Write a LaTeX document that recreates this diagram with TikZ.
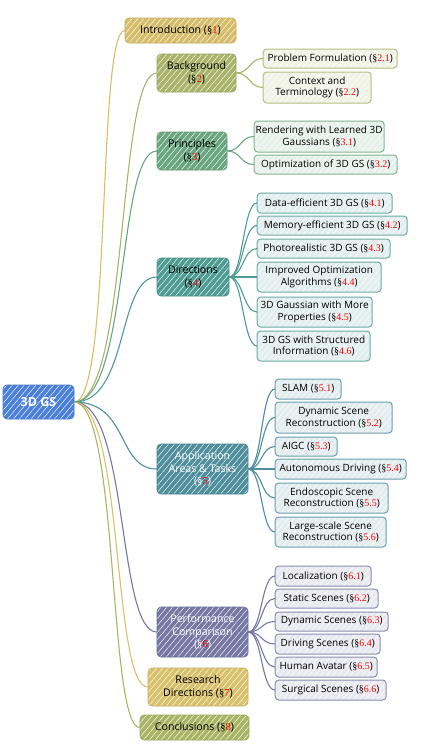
\documentclass[tikz,border=0pt]{standalone}
\usepackage{fontspec}
\setmainfont{Open Sans}
\newfontfamily\secfont{Liberation Serif}
\usetikzlibrary{patterns.meta}
\definecolor{rootblue}{HTML}{4A80DC}
\definecolor{introgold}{HTML}{D6BD69}
\definecolor{bgolive}{HTML}{A9B46A}
\definecolor{prgreen}{HTML}{6AA67F}
\definecolor{dirteal}{HTML}{4E9C93}
\definecolor{appteal}{HTML}{4F8E9D}
\definecolor{perfpurple}{HTML}{7678A3}
\definecolor{resgold}{HTML}{D9C06B}
\definecolor{concolive}{HTML}{A9B564}

\newcommand{\gsref}[1]{({\secfont\S\textcolor{red}{#1}})}

\tikzset{
  hatch/.style={postaction={pattern={Lines[angle=50,distance=4.5pt,line width=0.45pt]},
    pattern color=white,fill opacity=0.22}},
  topic/.style={fill=#1,rounded corners=4pt,align=center,inner sep=1.5pt,
    font=\fontsize{10.6}{12.5}\selectfont,hatch,postaction={draw=#1!90!black,line width=0.6pt}},
  subtopic/.style={fill=#1!16,rounded corners=3.5pt,align=center,inner sep=1.5pt,anchor=west,
    font=\fontsize{10}{11.5}\selectfont,hatch,postaction={draw=#1!85,line width=1pt}},
  link/.style={draw=#1,line width=1.1pt},
}

\begin{document}
\begin{tikzpicture}[x=1pt,y=-1pt]
  \useasboundingbox (0,0) rectangle (423,750);

  % central topic
  \node[topic=rootblue,text=white,font=\fontsize{12.5}{14}\selectfont\bfseries,
    minimum width=71,minimum height=34] (root) at (38.5,402) {3D GS};

  % main topics
  \node[topic=introgold,minimum width=111,minimum height=25] (intro) at (180.5,30.5) {Introduction \gsref{1}};
  \node[topic=bgolive,minimum width=79,minimum height=38] (bg) at (196.5,73) {Background\\\gsref{2}};
  \node[topic=prgreen,minimum width=70,minimum height=38] (prin) at (192,151) {Principles\\\gsref{3}};
  \node[topic=dirteal,minimum width=72,minimum height=38] (dir) at (193,277) {Directions\\\gsref{4}};
  \node[topic=appteal,text=white,minimum width=91,minimum height=50] (app) at (202.5,469) {Application\\Areas \& Tasks\\\gsref{5}};
  \node[topic=perfpurple,text=white,minimum width=91,minimum height=50] (perf) at (202.5,632) {Performance\\Comparison\\\gsref{6}};
  \node[topic=resgold,minimum width=100,minimum height=38] (res) at (198,687) {Research\\Directions \gsref{7}};
  \node[topic=concolive,minimum width=109,minimum height=25] (conc) at (194.5,727.5) {Conclusions \gsref{8}};

  % background
  \node[subtopic=bgolive,minimum width=134,minimum height=19] (pf) at (263,58.5) {Problem Formulation \gsref{2.1}};
  \node[subtopic=bgolive,minimum width=108,minimum height=31] (ct) at (263,87.5) {Context and\\Terminology \gsref{2.2}};

  % principles
  \node[subtopic=prgreen,minimum width=130,minimum height=31] (rend) at (254,136.5) {Rendering with Learned 3D\\Gaussians \gsref{3.1}};
  \node[subtopic=prgreen,minimum width=143,minimum height=19] (opt) at (254,164.5) {Optimization of 3D GS \gsref{3.2}};

  % directions
  \node[subtopic=dirteal,minimum width=135,minimum height=20] (d1) at (257,203) {Data-efficient 3D GS \gsref{4.1}};
  \node[subtopic=dirteal,minimum width=150,minimum height=19] (d2) at (257,225.5) {Memory-efficient 3D GS \gsref{4.2}};
  \node[subtopic=dirteal,minimum width=133,minimum height=19] (d3) at (257,248.5) {Photorealistic 3D GS \gsref{4.3}};
  \node[subtopic=dirteal,minimum width=124,minimum height=30] (d4) at (257,277) {Improved Optimization\\Algorithms \gsref{4.4}};
  \node[subtopic=dirteal,minimum width=115,minimum height=30] (d5) at (257,312) {3D Gaussian with More\\Properties \gsref{4.5}};
  \node[subtopic=dirteal,minimum width=113,minimum height=30] (d6) at (257,346) {3D GS with Structured\\Information \gsref{4.6}};

  % applications
  \node[subtopic=appteal,minimum width=66,minimum height=20] (a1) at (275,389) {SLAM \gsref{5.1}};
  \node[subtopic=appteal,minimum width=117,minimum height=31] (a2) at (275,417.5) {Dynamic Scene\\Reconstruction \gsref{5.2}};
  \node[subtopic=appteal,minimum width=62,minimum height=19] (a3) at (275,446.5) {AIGC \gsref{5.3}};
  \node[subtopic=appteal,minimum width=131,minimum height=20] (a4) at (275,469) {Autonomous Driving \gsref{5.4}};
  \node[subtopic=appteal,minimum width=113,minimum height=30] (a5) at (275,498) {Endoscopic Scene\\Reconstruction \gsref{5.5}};
  \node[subtopic=appteal,minimum width=111,minimum height=30] (a6) at (275,532) {Large-scale Scene\\Reconstruction \gsref{5.6}};

  % performance
  \node[subtopic=perfpurple,minimum width=96,minimum height=20] (p1) at (275,576) {Localization \gsref{6.1}};
  \node[subtopic=perfpurple,minimum width=103,minimum height=19] (p2) at (275,598.5) {Static Scenes \gsref{6.2}};
  \node[subtopic=perfpurple,minimum width=113,minimum height=19] (p3) at (275,621.5) {Dynamic Scenes \gsref{6.3}};
  \node[subtopic=perfpurple,minimum width=105,minimum height=20] (p4) at (275,644) {Driving Scenes \gsref{6.4}};
  \node[subtopic=perfpurple,minimum width=102,minimum height=20] (p5) at (275,667) {Human Avatar \gsref{6.5}};
  \node[subtopic=perfpurple,minimum width=111,minimum height=20] (p6) at (275,690) {Surgical Scenes \gsref{6.6}};

  % links from the root
  \draw[link=introgold] (root.east) .. controls +(38,0) and +(-28,0) .. (intro.west);
  \draw[link=bgolive] (root.east) .. controls +(55,0) and +(-40,0) .. (bg.west);
  \draw[link=prgreen] (root.east) .. controls +(55,0) and +(-40,0) .. (prin.west);
  \draw[link=dirteal] (root.east) .. controls +(55,0) and +(-40,0) .. (dir.west);
  \draw[link=appteal] (root.east) .. controls +(55,0) and +(-40,0) .. (app.west);
  \draw[link=perfpurple] (root.east) .. controls +(55,0) and +(-40,0) .. (perf.west);
  \draw[link=resgold] (root.east) .. controls +(50,0) and +(-36,0) .. (res.west);
  \draw[link=concolive] (root.east) .. controls +(45,0) and +(-32,0) .. (conc.west);

  % links to the subtopics
  \foreach \c in {pf,ct}
    \draw[link=bgolive] (bg.east) .. controls +(14,0) and +(-14,0) .. (\c.west);
  \foreach \c in {rend,opt}
    \draw[link=prgreen] (prin.east) .. controls +(14,0) and +(-14,0) .. (\c.west);
  \foreach \c in {d1,d2,d3,d4,d5,d6}
    \draw[link=dirteal] (dir.east) .. controls +(14,0) and +(-14,0) .. (\c.west);
  \foreach \c in {a1,a2,a3,a4,a5,a6}
    \draw[link=appteal] (app.east) .. controls +(14,0) and +(-14,0) .. (\c.west);
  \foreach \c in {p1,p2,p3,p4,p5,p6}
    \draw[link=perfpurple] (perf.east) .. controls +(14,0) and +(-14,0) .. (\c.west);
\end{tikzpicture}
\end{document}
